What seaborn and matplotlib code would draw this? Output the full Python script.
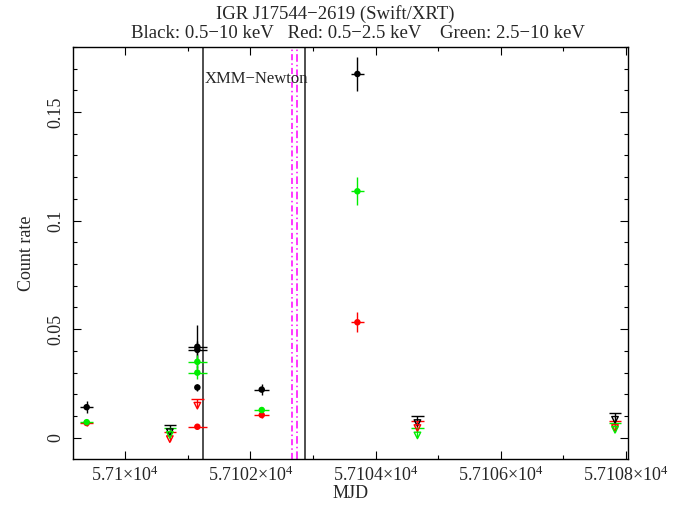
import numpy as np
import pandas as pd
import matplotlib
matplotlib.use('Agg')
import matplotlib.pyplot as plt
from matplotlib.ticker import MultipleLocator, FuncFormatter
import seaborn as sns

# detections: MJD, count rate, errors
black_mjd = [57099.38, 57101.15, 57101.15, 57101.15, 57102.18, 57103.71]
black_rate = [0.0141, 0.0419, 0.0405, 0.0232, 0.0222, 0.1675]
black_err = [0.0028, 0.0100, 0.0040, 0.0015, 0.0025, 0.0080]
black_dt = [0.10, 0.15, 0.15, 0.02, 0.12, 0.11]

red_mjd = [57099.38, 57101.15, 57102.18, 57103.71]
red_rate = [0.0068, 0.0051, 0.0105, 0.0532]
red_err = [0.0012, 0.0010, 0.0012, 0.0045]
red_dt = [0.10, 0.15, 0.12, 0.11]

green_mjd = [57099.38, 57101.15, 57101.15, 57102.18, 57103.71]
green_rate = [0.0072, 0.0350, 0.0300, 0.0128, 0.1135]
green_err = [0.0015, 0.0030, 0.0030, 0.0015, 0.0065]
green_dt = [0.10, 0.15, 0.15, 0.12, 0.11]

# upper limits
black_ul_mjd = [57100.71, 57104.67, 57107.83]
black_ul_rate = [0.0058, 0.0100, 0.0115]
red_ul_mjd = [57100.71, 57101.15, 57104.67, 57107.83]
red_ul_rate = [0.0026, 0.0180, 0.0077, 0.0077]
green_ul_mjd = [57100.71, 57104.67, 57107.83]
green_ul_rate = [0.0045, 0.0043, 0.0069]

xmm_start, xmm_end = 57101.24, 57102.87
magenta_lines = [57102.67, 57102.74]

sns.set_style('ticks')
plt.rcParams['font.family'] = ['Liberation Serif', 'DejaVu Serif']
plt.rcParams['mathtext.fontset'] = 'custom'
plt.rcParams['mathtext.rm'] = 'Liberation Serif'
plt.rcParams['mathtext.it'] = 'Liberation Serif:italic'

colors = {'black': 'black', 'red': '#ff0000', 'green': '#00ee00'}

fig = plt.figure(figsize=(6.88, 5.09), dpi=100)
ax = fig.add_axes([0.106, 0.098, 0.807, 0.81])

# vertical lines: XMM-Newton window and magenta markers
ax.axvline(xmm_start, color='0.25', lw=1.3)
ax.axvline(xmm_end, color='0.25', lw=1.3)
ax.axvline(magenta_lines[0], color='#ff00ff', lw=1.1, ls=(0, (4, 2, 1, 2)))
ax.axvline(magenta_lines[1], color='#ff00ff', lw=1.1, ls=(0, (5, 2, 1, 2)))
ax.text(xmm_start + 0.03, 0.165, 'XMM\u2212Newton', fontsize=12, va='center', ha='left')

bands = [
    ('black', black_mjd, black_rate, black_err, black_dt, black_ul_mjd, black_ul_rate),
    ('red', red_mjd, red_rate, red_err, red_dt, red_ul_mjd, red_ul_rate),
    ('green', green_mjd, green_rate, green_err, green_dt, green_ul_mjd, green_ul_rate),
]

rows = []
arrow = 0.004
for name, mjd, rate, err, dt, ul_mjd, ul_rate in bands:
    c = colors[name]
    ax.errorbar(mjd, rate, xerr=dt, yerr=err, fmt='none', ecolor=c, elinewidth=1.0, zorder=2)
    ul_mjd = np.array(ul_mjd)
    ul_rate = np.array(ul_rate)
    ax.errorbar(ul_mjd, ul_rate, xerr=0.1, yerr=[np.full(len(ul_rate), arrow), np.zeros(len(ul_rate))],
                fmt='none', ecolor=c, elinewidth=1.0, zorder=2)
    ax.scatter(ul_mjd, ul_rate - arrow * 0.8, marker='v', s=22, facecolor='none',
               edgecolor=c, lw=1.0, zorder=3)
    for m, r in zip(mjd, rate):
        rows.append({'MJD': m, 'rate': r, 'band': name})

df = pd.DataFrame(rows)
sns.scatterplot(data=df, x='MJD', y='rate', hue='band', palette=colors, s=22,
                edgecolor='none', legend=False, ax=ax, zorder=4)

ax.set_xlim(57099.16, 57108.04)
ax.set_ylim(-0.0098, 0.18)

ax.xaxis.set_major_locator(MultipleLocator(2))
ax.xaxis.set_minor_locator(MultipleLocator(1))
ax.yaxis.set_major_locator(MultipleLocator(0.05))
ax.yaxis.set_minor_locator(MultipleLocator(0.01))
ax.xaxis.set_major_formatter(FuncFormatter(lambda v, p: f'{v / 1e4:g}\u00d710' + r'$^{\mathrm{4}}$'))
ax.yaxis.set_major_formatter(FuncFormatter(lambda v, p: f'{v:g}'))

ax.tick_params(which='both', direction='in', top=True, right=True, labelsize=13, color='black')
ax.tick_params(which='major', length=5.5, width=0.8)
ax.tick_params(which='minor', length=3, width=0.8)
ax.tick_params(axis='x', pad=5)
ax.tick_params(axis='y', pad=6)
for lab in ax.get_yticklabels():
    lab.set_rotation(90)
    lab.set_va('center')
for s in ax.spines.values():
    s.set_color('black')
    s.set_linewidth(1.0)

ax.set_xlabel('MJD', fontsize=13, labelpad=0)
ax.set_ylabel('Count rate', fontsize=13, labelpad=9)

fig.text(0.487, 0.972, 'IGR J17544\u22122619 (Swift/XRT)', ha='center', va='center', fontsize=13.5)
fig.text(0.52, 0.935, 'Black: 0.5\u221210 keV   Red: 0.5\u22122.5 keV    Green: 2.5\u221210 keV',
         ha='center', va='center', fontsize=13.5)

fig.savefig('out.png', dpi=100)
